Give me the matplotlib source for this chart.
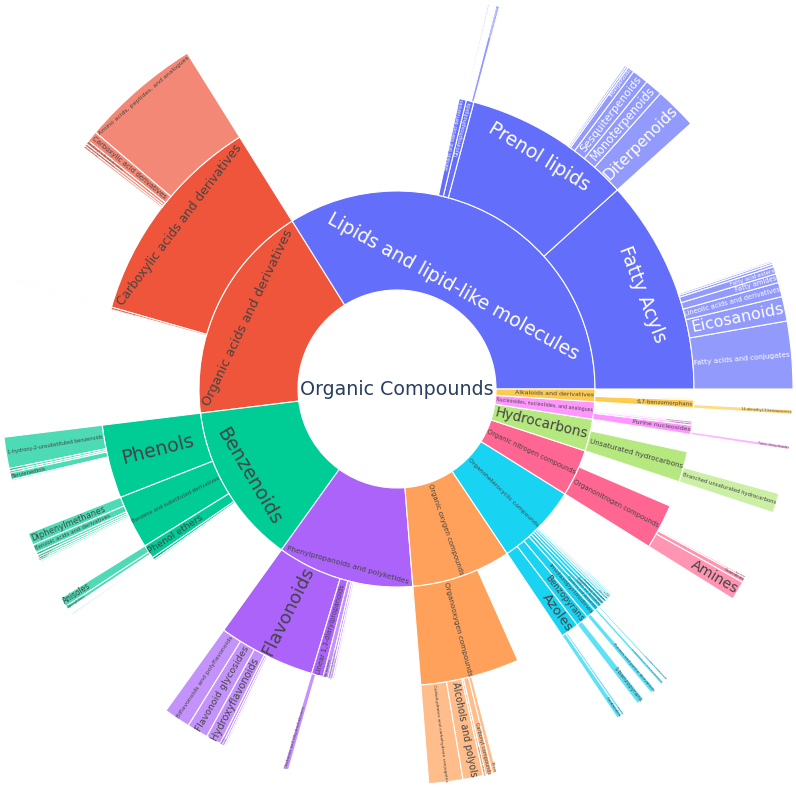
import numpy as np
import matplotlib.pyplot as plt
from matplotlib.patches import Wedge
from matplotlib.textpath import TextToPath
from matplotlib.font_manager import FontProperties

root_label = "Organic Compounds"

level1_labels = [
    "Lipids and lipid-like molecules", "Organic acids and derivatives", "Benzenoids",
    "Phenylpropanoids and polyketides", "Organic oxygen compounds", "Organoheterocyclic compounds",
    "Organic nitrogen compounds", "Hydrocarbons", "Nucleosides, nucleotides, and analogues",
    "Alkaloids and derivatives",
]
level1_values = [122.0, 65.0, 47.3, 40.3, 29.2, 24.2, 13.8, 9.4, 5.1, 3.7]

level2_labels = [
    "Fatty Acyls", "Prenol lipids", "Glycerophospholipids", "Steroids and steroid derivatives",
    "Carboxylic acids and derivatives", "Hydroxy acids and derivatives", "Peptidomimetics",
    "Phenols", "Benzene and substituted derivatives", "Phenol ethers", "Naphthalenes",
    "Biphenyls and derivatives",
    "Flavonoids", "Linear 1,3-diarylpropanoids", "Stilbenes", "Cinnamic acids and derivatives",
    "Coumarins and derivatives", "Isoflavonoids", "Phenylpropanoic acids",
    "Organooxygen compounds",
    "Azoles", "Benzopyrans", "Imidazopyrimidines", "Pyridines and derivatives",
    "Indoles and derivatives", "Quinolines and derivatives", "Pteridines and derivatives",
    "Benzofurans", "Lactones", "Pyrans", "Furans", "Oxanes", "Piperidines",
    "Organonitrogen compounds",
    "Unsaturated hydrocarbons",
    "Purine nucleosides", "Pyrimidine nucleosides", "Nucleoside and nucleotide analogues",
    "Purine nucleotides",
    "6,7-benzomorphans", "Morphinans", "Tropane alkaloids",
]
level2_parents = (
    ["Lipids and lipid-like molecules"] * 4
    + ["Organic acids and derivatives"] * 3
    + ["Benzenoids"] * 5
    + ["Phenylpropanoids and polyketides"] * 7
    + ["Organic oxygen compounds"]
    + ["Organoheterocyclic compounds"] * 13
    + ["Organic nitrogen compounds"]
    + ["Hydrocarbons"]
    + ["Nucleosides, nucleotides, and analogues"] * 4
    + ["Alkaloids and derivatives"] * 3
)
level2_values = [
    42.1, 32.9, 1.5, 1.4,
    42.0, 0.4, 0.25,
    14.4, 10.5, 2.7, 0.5, 0.3,
    19.0, 2.3, 1.0, 0.5, 0.4, 0.3, 0.2,
    19.4,
    3.6, 2.5, 1.9, 0.9, 0.8, 0.7, 0.6, 0.5, 0.4, 0.35, 0.3, 0.25, 0.2,
    8.8,
    6.0,
    1.8, 0.45, 0.35, 0.25,
    1.6, 0.3, 0.2,
]

level3_labels = [
    "Fatty acids and conjugates", "Eicosanoids", "Lineolic acids and derivatives", "Fatty amides",
    "Fatty acid esters", "Fatty alcohols", "Fatty aldehydes", "Octadecanoids",
    "Diterpenoids", "Monoterpenoids", "Sesquiterpenoids", "Triterpenoids", "Tetraterpenoids",
    "Polyprenols",
    "Glycerophosphocholines",
    "Hydroxysteroids",
    "Amino acids, peptides, and analogues", "Carboxylic acid derivatives",
    "Dicarboxylic acids and derivatives", "Tricarboxylic acids and derivatives",
    "Carboxylic acid salts",
    "Beta hydroxy acids and derivatives",
    "1-hydroxy-2-unsubstituted benzenoids", "Methoxyphenols", "Hydroquinones", "Benzenediols",
    "Catechols",
    "Diphenylmethanes", "Benzoic acids and derivatives", "Benzyloxy compounds",
    "Phenylacetamides", "Halobenzenes", "Nitrobenzenes", "Benzaldehydes",
    "Anisoles", "Diphenylethers",
    "Naphthols and derivatives",
    "Biflavonoids and polyflavonoids", "Flavonoid glycosides", "Hydroxyflavonoids", "Flavans",
    "Flavones", "O-methylated flavonoids",
    "Chalcones and dihydrochalcones",
    "Carbohydrates and carbohydrate conjugates", "Alcohols and polyols",
    "Organic oxoanionic compounds", "Carbonyl compounds", "Ethers",
    "Imidazoles", "Pyrazoles",
    "1-benzopyrans",
    "Purines and purine derivatives",
    "Pyridinecarboxylic acids and derivatives",
    "Indolyl carboxylic acids and derivatives",
    "Hydroquinolines",
    "Pterins and derivatives",
    "Amines", "Guanidines", "Hydroxylamines", "Amidines",
    "Branched unsaturated hydrocarbons", "Olefins",
    "Purine ribonucleosides",
    "1,4-dimethyl-3-benzazocines",
]
level3_parents = (
    ["Fatty Acyls"] * 8
    + ["Prenol lipids"] * 6
    + ["Glycerophospholipids"]
    + ["Steroids and steroid derivatives"]
    + ["Carboxylic acids and derivatives"] * 5
    + ["Hydroxy acids and derivatives"]
    + ["Phenols"] * 5
    + ["Benzene and substituted derivatives"] * 7
    + ["Phenol ethers"] * 2
    + ["Naphthalenes"]
    + ["Flavonoids"] * 6
    + ["Linear 1,3-diarylpropanoids"]
    + ["Organooxygen compounds"] * 5
    + ["Azoles"] * 2
    + ["Benzopyrans"]
    + ["Imidazopyrimidines"]
    + ["Pyridines and derivatives"]
    + ["Indoles and derivatives"]
    + ["Quinolines and derivatives"]
    + ["Pteridines and derivatives"]
    + ["Organonitrogen compounds"] * 4
    + ["Unsaturated hydrocarbons"] * 2
    + ["Purine nucleosides"]
    + ["6,7-benzomorphans"]
)
level3_values = [
    9.9, 3.6, 2.1, 1.3, 1.1, 0.4, 0.3, 0.2,
    6.2, 2.6, 2.4, 1.0, 0.3, 0.25,
    0.5,
    0.2,
    17.6, 1.6, 0.5, 0.4, 0.3,
    0.15,
    4.6, 0.35, 0.3, 1.0, 0.2,
    1.8, 1.2, 0.4, 0.35, 0.3, 0.25, 0.2,
    1.4, 0.5,
    0.2,
    3.9, 3.1, 2.2, 0.4, 0.3, 0.2,
    0.8,
    5.0, 3.0, 0.35, 1.0, 0.6,
    0.8, 0.35,
    1.1,
    0.8,
    0.45,
    0.3,
    0.15,
    0.15,
    2.8, 0.7, 0.25, 0.15,
    2.9, 0.15,
    0.5,
    0.7,
]

palette = ["#636EFA", "#EF553B", "#00CC96", "#AB63FA", "#FFA15A",
           "#19D3F3", "#FF6692", "#B6E880", "#FF97FF", "#FECB52"]

# canvas in pixels, sunburst centre
W, H = 796, 788
CX, CY = 397, 389
R = 396.0
RW = R / 4
FMAX = 19.0      # px
TEXTPAD = 3
LINE_H = 1.164   # DejaVu ascent + descent, in em

fp = FontProperties(family="DejaVu Sans", size=100)
t2p = TextToPath()


def text_width(s):
    w, h, d = t2p.get_text_width_height_descent(s, fp, ismath=False)
    return w / 100.0


def hex_rgb(c):
    c = c.lstrip("#")
    return np.array([int(c[i:i + 2], 16) for i in (0, 2, 4)]) / 255.0


def max_half(a, half, r, ring):
    q = a + 1 / (2 * np.tan(half))
    return r * min(1 / (np.sqrt(q * q + 0.5) + q), ring / (np.sqrt(a * a + ring / 2) + a))


# layout: angles from 3 o'clock counterclockwise, children start at parent's start
total = sum(level1_values)
geom = {}
base = {}
cursor = {root_label: 0.0}
levels = [
    (level1_labels, [root_label] * len(level1_labels), level1_values, 1),
    (level2_labels, level2_parents, level2_values, 2),
    (level3_labels, level3_parents, level3_values, 3),
]
for i, lab in enumerate(level1_labels):
    base[lab] = palette[i % len(palette)]
has_kids = set(level2_parents) | set(level3_parents)
order = []
for labs, pars, vals, depth in levels:
    for lab, par, v in zip(labs, pars, vals):
        t0 = cursor[par]
        t1 = t0 + v / total * 360.0
        cursor[par] = t1
        cursor[lab] = t0
        geom[lab] = (t0, t1, depth)
        if depth > 1:
            base[lab] = base[par]
        order.append(lab)

fig = plt.figure(figsize=(W / 100, H / 100), dpi=100)
ax = fig.add_axes([0, 0, 1, 1])
ax.set_xlim(-CX, W - CX)
ax.set_ylim(-(H - CY), CY)
ax.axis("off")

for lab in order:
    t0, t1, depth = geom[lab]
    rgb = hex_rgb(base[lab])
    if lab not in has_kids:
        rgb = 0.7 * rgb + 0.3
    ax.add_patch(Wedge((0, 0), (depth + 1) * RW, t0, t1, width=RW,
                       facecolor=rgb, edgecolor="white", linewidth=0.8))

# root label
w1 = text_width(root_label)
f_root = min(FMAX, 2 * RW / np.hypot(w1, LINE_H))
ax.text(0, 0, root_label, ha="center", va="center", color="#2a3f5f",
        fontsize=f_root * 0.72, family="DejaVu Sans")

for lab in order:
    t0, t1, depth = geom[lab]
    span = np.radians(t1 - t0)
    if span <= 0:
        continue
    half = 0.5 * min(span, np.pi)
    mid = np.radians(0.5 * (t0 + t1))
    r0, r1 = depth * RW, (depth + 1) * RW
    ring = 1 - r0 / r1
    r = r1 - 2 * TEXTPAD
    w1 = text_width(lab)
    h1 = LINE_H

    rins = max(0.0, min(1 / (1 + 1 / np.sin(half)), ring / 2))
    f_h = rins * r1 * 2 / np.hypot(w1, h1)
    best = (f_h, 1 - rins, 0.0)
    if f_h < FMAX:
        # tangential
        a = h1 / w1
        s = max_half(a, half, r, ring)
        b = s / r
        tan_t = (2 * s / w1, np.cos(b) - a * b,
                 (np.degrees(mid) + 90 + 90) % 180 - 90)
        # radial
        a = w1 / h1
        s = max_half(a, half, r, ring)
        b = s / r
        rad_t = (2 * s / h1, np.cos(b) - a * b,
                 (np.degrees(mid) + 90) % 180 - 90)
        for cand in (tan_t, rad_t):
            if cand[0] > best[0]:
                best = cand
    f, rc, rot = best
    f = min(f, FMAX)
    if f < 1.3:
        continue
    rgb = hex_rgb(base[lab]) * 255
    bright = (rgb[0] * 299 + rgb[1] * 587 + rgb[2] * 114) / 1000
    tcol = "#444444" if bright >= 128 else "white"
    x, y = rc * r1 * np.cos(mid), rc * r1 * np.sin(mid)
    ax.text(x, y, lab, ha="center", va="center", rotation=rot, rotation_mode="anchor",
            color=tcol, fontsize=f * 0.72, family="DejaVu Sans")

fig.savefig("out.png", dpi=100)
